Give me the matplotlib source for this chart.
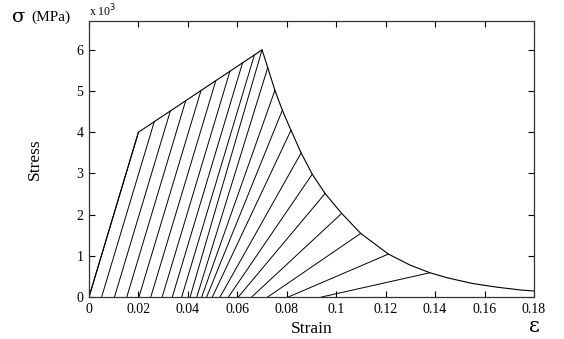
import matplotlib
matplotlib.use("Agg")
import matplotlib.pyplot as plt

# Envelope (stress-strain backbone), stress in MPa
envelope_strain = [0.0, 0.02, 0.07, 0.0723, 0.0752, 0.0782, 0.0817, 0.0858, 0.0903,
                   0.0955, 0.1022, 0.1099, 0.1211, 0.13, 0.1379, 0.145, 0.155,
                   0.165, 0.175, 0.18]
envelope_stress = [0, 4000, 6000, 5568, 5018, 4533, 4048, 3498, 2982,
                   2513, 2029, 1544, 1042, 771, 589, 465, 330,
                   238, 168, 145]

# Unloading lines: start point on envelope -> residual strain at zero stress
unload_strain = [0.02, 0.0264, 0.0329, 0.0391, 0.0453, 0.0513, 0.057, 0.0621, 0.0669, 0.07,
                 0.0723, 0.0752, 0.0782, 0.0817, 0.0858, 0.0903, 0.0955, 0.1022, 0.1099,
                 0.1211, 0.1379]
unload_stress = [4000, 4256, 4516, 4764, 5012, 5252, 5480, 5684, 5876, 6000,
                 5568, 5018, 4533, 4048, 3498, 2982, 2513, 2029, 1544,
                 1042, 589]
residual_strain = [0.0, 0.0051, 0.0103, 0.0153, 0.0202, 0.025, 0.0296, 0.0337, 0.0375, 0.0409,
                   0.0436, 0.0456, 0.0476, 0.0499, 0.053, 0.0564, 0.0604, 0.0658, 0.0723,
                   0.0806, 0.0941]

xticks = [0, 0.02, 0.04, 0.06, 0.08, 0.1, 0.12, 0.14, 0.16, 0.18]
xticklabels = ["0", "0.02", "0.04", "0.06", "0.08", "0.1", "0.12", "0.14", "0.16", "0.18"]
yticks = [0, 1000, 2000, 3000, 4000, 5000, 6000]
yticklabels = ["0", "1", "2", "3", "4", "5", "6"]

serif = ["Liberation Serif", "DejaVu Serif"]
plt.rcParams["font.family"] = serif

fig = plt.figure(figsize=(5.64, 3.39), dpi=100)
ax = fig.add_axes([89 / 564, 1 - 297 / 339, (534 - 89) / 564, (297 - 21) / 339])

ax.plot(envelope_strain, envelope_stress, color="black", lw=0.8)
for xs, ys, xr in zip(unload_strain, unload_stress, residual_strain):
    ax.plot([xs, xr], [ys, 0], color="black", lw=0.7)

ax.set_xlim(0, 0.18)
ax.set_ylim(0, 6700)
ax.set_xticks(xticks)
ax.set_xticklabels(xticklabels)
ax.set_yticks(yticks)
ax.set_yticklabels(yticklabels)
ax.tick_params(direction="in", top=True, right=True, length=4, width=0.8,
               labelsize=10, colors="black", pad=4)
for s in ax.spines.values():
    s.set_color("#333333")
    s.set_linewidth(0.9)

ax.set_xlabel("Strain", fontsize=12.5, labelpad=4)
ax.set_ylabel("Stress", fontsize=12.5, labelpad=24)

fig.text(89 / 564, 1 - 11 / 339, r"x 10$^3$", fontsize=8.5, ha="left", va="center")
fig.text(12 / 564, 1 - 17 / 339, "σ", fontsize=14, ha="left", va="center",
         family=["DejaVu Serif"])
fig.text(31 / 564, 1 - 17 / 339, "(MPa)", fontsize=11, ha="left", va="center")
fig.text(534 / 564, 1 - 327 / 339, "ε", fontsize=15, ha="center", va="center",
         family=["DejaVu Serif"])

fig.savefig("out.png", dpi=100)
